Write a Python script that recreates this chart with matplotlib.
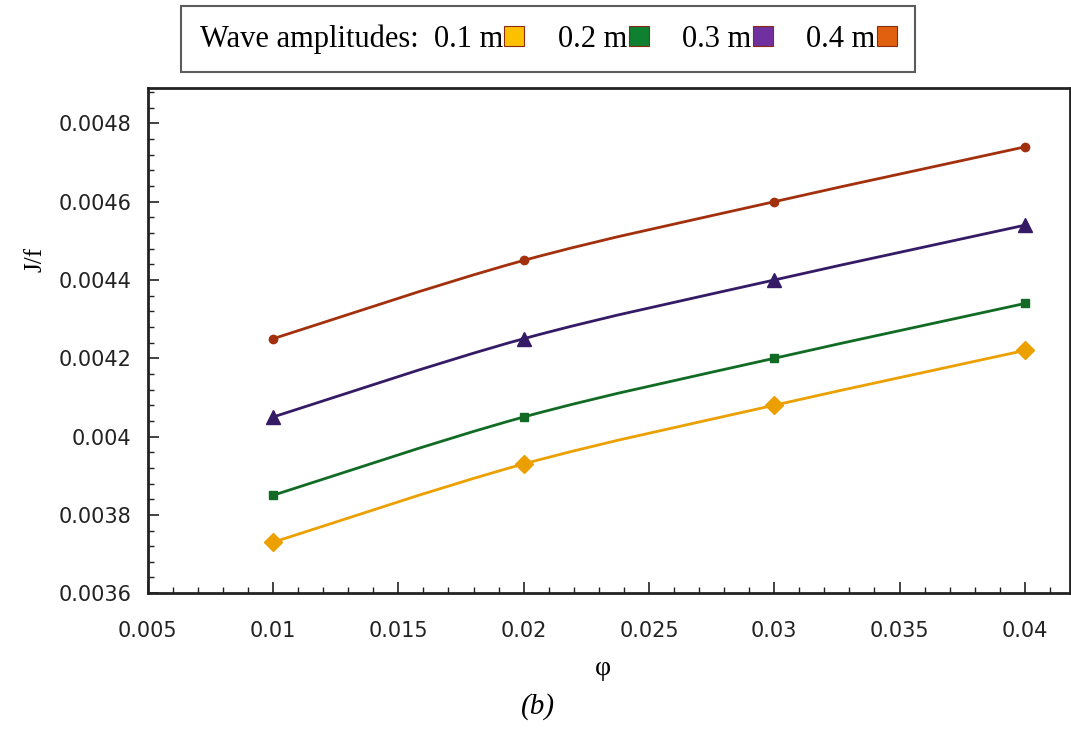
import numpy as np
import matplotlib
matplotlib.use("Agg")
import matplotlib.pyplot as plt
from matplotlib.lines import Line2D
from matplotlib.path import Path
from matplotlib.patches import PathPatch
from matplotlib.ticker import MultipleLocator

phi = [0.01, 0.02, 0.03, 0.04]
amp_labels = ['0.1 m', '0.2 m', '0.3 m', '0.4 m']
jf_01 = [0.00373, 0.00393, 0.00408, 0.00422]
jf_02 = [0.00385, 0.00405, 0.00420, 0.00434]
jf_03 = [0.00405, 0.00425, 0.00440, 0.00454]
jf_04 = [0.00425, 0.00445, 0.00460, 0.00474]

line_colors = ['#eca000', '#116b25', '#351a66', '#a3300c']
legend_colors = ['#ffc000', '#0e8030', '#7030a0', '#e06010']
markers = ['D', 's', '^', 'o']
msizes = [9, 6, 10, 6]


def smooth_path(x, y, k=1 / 6):
    # excel-style smoothed line: cubic bezier segments through the points
    x = np.asarray(x)
    y = np.asarray(y)
    verts = [(x[0], y[0])]
    codes = [Path.MOVETO]
    n = len(x)
    for i in range(n - 1):
        i0 = max(i - 1, 0)
        i3 = min(i + 2, n - 1)
        c1 = (x[i] + (x[i + 1] - x[i0]) * k, y[i] + (y[i + 1] - y[i0]) * k)
        c2 = (x[i + 1] - (x[i3] - x[i]) * k, y[i + 1] - (y[i3] - y[i]) * k)
        verts += [c1, c2, (x[i + 1], y[i + 1])]
        codes += [Path.CURVE4] * 3
    return Path(verts, codes)


fig = plt.figure(figsize=(10.71, 7.35), dpi=100)
ax = fig.add_axes([0.138, 0.193, 0.861, 0.687])

for y, c, m, ms in zip([jf_01, jf_02, jf_03, jf_04], line_colors, markers, msizes):
    ax.add_patch(PathPatch(smooth_path(phi, y), fc='none', ec=c, lw=2))
    ax.plot(phi, y, ls='none', marker=m, ms=ms, mfc=c, mec=c)

ax.set_xlim(0.005, 0.0418)
ax.set_ylim(0.0036, 0.00489)
ax.set_xticks([0.005, 0.01, 0.015, 0.02, 0.025, 0.03, 0.035, 0.04])
ax.set_xticklabels(['0.005', '0.01', '0.015', '0.02', '0.025', '0.03', '0.035', '0.04'])
ax.set_yticks([0.0036, 0.0038, 0.004, 0.0042, 0.0044, 0.0046, 0.0048])
ax.set_yticklabels(['0.0036', '0.0038', '0.004', '0.0042', '0.0044', '0.0046', '0.0048'])
ax.xaxis.set_minor_locator(MultipleLocator(0.001))
ax.yaxis.set_minor_locator(MultipleLocator(0.00004))
ax.tick_params(which='both', direction='in', labelsize=15, colors='#222222')
ax.tick_params(which='major', length=8, width=1.2)
ax.tick_params(which='minor', length=4, width=1)
ax.tick_params(axis='x', pad=20)
ax.tick_params(axis='y', pad=12)
for s in ax.spines.values():
    s.set_linewidth(2)
    s.set_color('#222222')

fig.text(0.033, 0.647, 'J/f', family='Liberation Serif', fontsize=18, rotation=90,
         ha='center', va='center')
fig.text(0.563, 0.091, 'φ', family='Liberation Serif', fontsize=20, ha='center', va='center')
fig.text(0.502, 0.039, '(b)', family='Liberation Serif', style='italic', fontsize=21,
         ha='center', va='center')

# legend across the top, squares after each label
handles = [Line2D([], [], ls='none', marker='s', ms=14, mfc=c, mec='#8a2a10', mew=0.8)
           for c in legend_colors]
labels = ['Wave amplitudes:  ' + amp_labels[0]] + amp_labels[1:]
leg = fig.legend(handles, labels, loc='center', bbox_to_anchor=(0.512, 0.947),
                 ncol=4, markerfirst=False, frameon=True, fancybox=False,
                 prop={'family': 'Liberation Serif', 'size': 22},
                 handlelength=0.65, handletextpad=0.05, columnspacing=1.1,
                 borderpad=0.6, borderaxespad=0, edgecolor='#333333')
leg.get_frame().set_linewidth(1.5)

fig.savefig('out.png', dpi=100)
